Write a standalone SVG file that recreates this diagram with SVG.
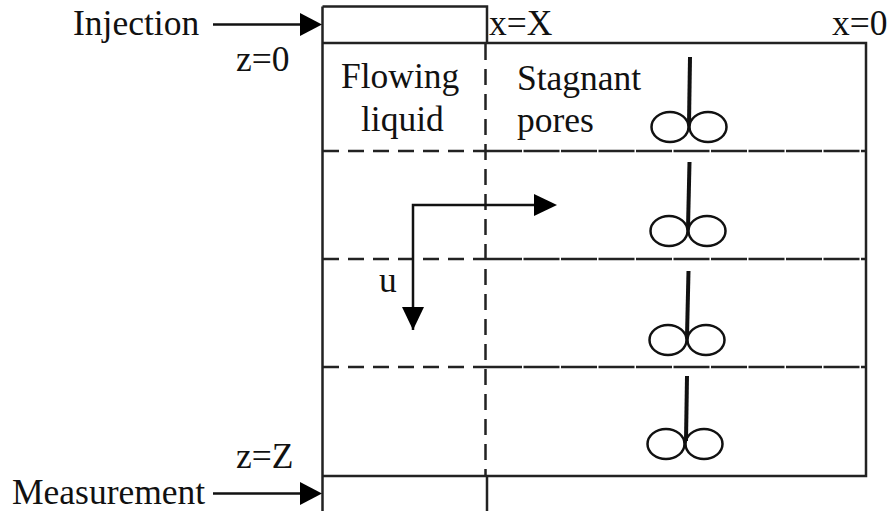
<svg xmlns="http://www.w3.org/2000/svg" width="890" height="511" viewBox="0 0 890 511">
<style>
text{font-family:"Liberation Serif","Times New Roman",serif;font-size:35.500px;fill:#111}
.l{fill:none;stroke:#222;stroke-width:2.500}
.d{fill:none;stroke:#222;stroke-width:2.500;stroke-dasharray:16 9}
.r{fill:none;stroke:#222;stroke-width:2.500;stroke-dasharray:36 1.500}
.s{fill:none;stroke:#111;stroke-width:4}
.e{fill:none;stroke:#111;stroke-width:2.500}
.a{fill:none;stroke:#111;stroke-width:2.500}
.h{fill:#000}
</style>
<rect width="890" height="511" fill="#fff"/>
<g id="frame">
<path class="l" d="M322.500 6.500H487V43M322.500 6.500V511M322.500 43H866V476H322.500M487 476V511"/>
<path class="d" d="M485.500 44V476"/>
<path class="d" d="M323 151H486M323 259H486M323 367H486"/>
<path class="r" d="M486 151H866M486 259H866M486 367H866"/>
</g>
<g id="connectors">
<path class="a" d="M213 24.500H302"/>
<path class="h" d="M300 13L322 24.500L300 36Z"/>
<path class="a" d="M213 493.500H302"/>
<path class="h" d="M300 482L322 493.500L300 505Z"/>
<path class="a" d="M413 330V205H536"/>
<path class="h" d="M534 194L557 205L534 216Z"/>
<path class="h" d="M402 307H424L413 330Z"/>
</g>
<g id="impeller-1"><path class="s" d="M690 57L689 124"/><ellipse class="e" cx="670" cy="127" rx="18.500" ry="15"/><ellipse class="e" cx="708" cy="127" rx="18.500" ry="15"/></g>
<g id="impeller-2"><path class="s" d="M689.500 162L688 228"/><ellipse class="e" cx="669" cy="231" rx="18.500" ry="15"/><ellipse class="e" cx="707" cy="231" rx="18.500" ry="15"/></g>
<g id="impeller-3"><path class="s" d="M688.500 271L687 336"/><ellipse class="e" cx="668" cy="340" rx="18.500" ry="15"/><ellipse class="e" cx="706" cy="340" rx="18.500" ry="15"/></g>
<g id="impeller-4"><path class="s" d="M687 376L686 441"/><ellipse class="e" cx="666" cy="444" rx="18.500" ry="15"/><ellipse class="e" cx="704" cy="444" rx="18.500" ry="15"/></g>
<g id="labels">
<text x="73" y="35">Injection</text>
<text x="236" y="71">z=0</text>
<text x="489" y="35">x=X</text>
<text x="832" y="35">x=0</text>
<text x="341" y="88">Flowing</text>
<text x="361" y="131">liquid</text>
<text x="517" y="90">Stagnant</text>
<text x="517" y="132">pores</text>
<text x="379" y="292">u</text>
<text x="236" y="468">z=Z</text>
<text x="12" y="504">Measurement</text>
</g>
</svg>
